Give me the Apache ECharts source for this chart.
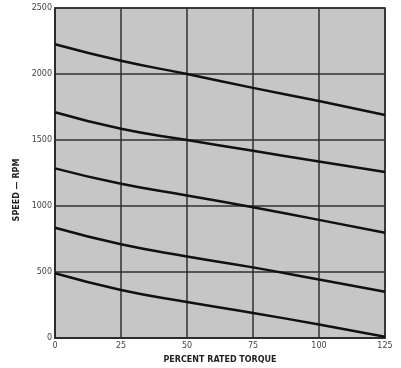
<!DOCTYPE html>
<html><head><meta charset="utf-8">
<script src="https://cdn.jsdelivr.net/npm/echarts@6/dist/echarts.min.js"></script>
<style>html,body{margin:0;padding:0;background:#fff}#c{width:401px;height:368px}</style>
</head><body><div id="c"></div>
<script>
var torque = [0, 25, 50, 75, 100, 125];
var curve1 = [2225, 2100, 2000, 1895, 1795, 1690];
var curve2 = [1710, 1585, 1500, 1418, 1337, 1258];
var curve3 = [1285, 1168, 1080, 990, 895, 797];
var curve4 = [835, 710, 618, 535, 443, 350];
var curve5 = [490, 364, 273, 190, 102, 10];
var curves = [curve1, curve2, curve3, curve4, curve5];

var chart = echarts.init(document.getElementById('c'), null, {renderer: 'canvas'});
chart.setOption({
  backgroundColor: '#fff',
  animation: false,
  grid: {left: 55, right: 16, top: 8, bottom: 30, containLabel: false, outerBoundsMode: 'none',
    show: true, backgroundColor: '#c6c6c6', borderColor: '#2a2a2a', borderWidth: 1.5},
  xAxis: {
    type: 'value', min: 0, max: 125, interval: 25,
    name: 'PERCENT RATED TORQUE', nameLocation: 'middle', nameGap: 18,
    nameTextStyle: {fontFamily: 'DejaVu Sans', fontWeight: 'bold', fontSize: 8, color: '#222'},
    axisLine: {show: true, lineStyle: {color: '#2a2a2a', width: 1.5}},
    axisTick: {show: false},
    axisLabel: {fontFamily: 'DejaVu Sans', fontSize: 8, color: '#444', margin: 4,
      formatter: function (v) { return String(v); }},
    splitLine: {show: true, lineStyle: {color: '#2f2f2f', width: 1.5}}
  },
  yAxis: {
    type: 'value', min: 0, max: 2500, interval: 500,
    name: 'SPEED — RPM', nameLocation: 'middle', nameGap: 31,
    nameTextStyle: {fontFamily: 'DejaVu Sans', fontWeight: 'bold', fontSize: 8, color: '#222', padding: [0, 34, 0, 0]},
    axisLine: {show: true, lineStyle: {color: '#2a2a2a', width: 1.5}},
    axisTick: {show: false},
    axisLabel: {fontFamily: 'DejaVu Sans', fontSize: 8, color: '#444', margin: 3,
      formatter: function (v) { return String(v); }},
    splitLine: {show: true, lineStyle: {color: '#2f2f2f', width: 1.5}}
  },
  series: curves.map(function (c) {
    return {
      type: 'line', smooth: 0.5, symbol: 'none',
      data: torque.map(function (t, i) { return [t, c[i]]; }),
      lineStyle: {color: '#111', width: 2.5}
    };
  })
});
</script></body></html>
